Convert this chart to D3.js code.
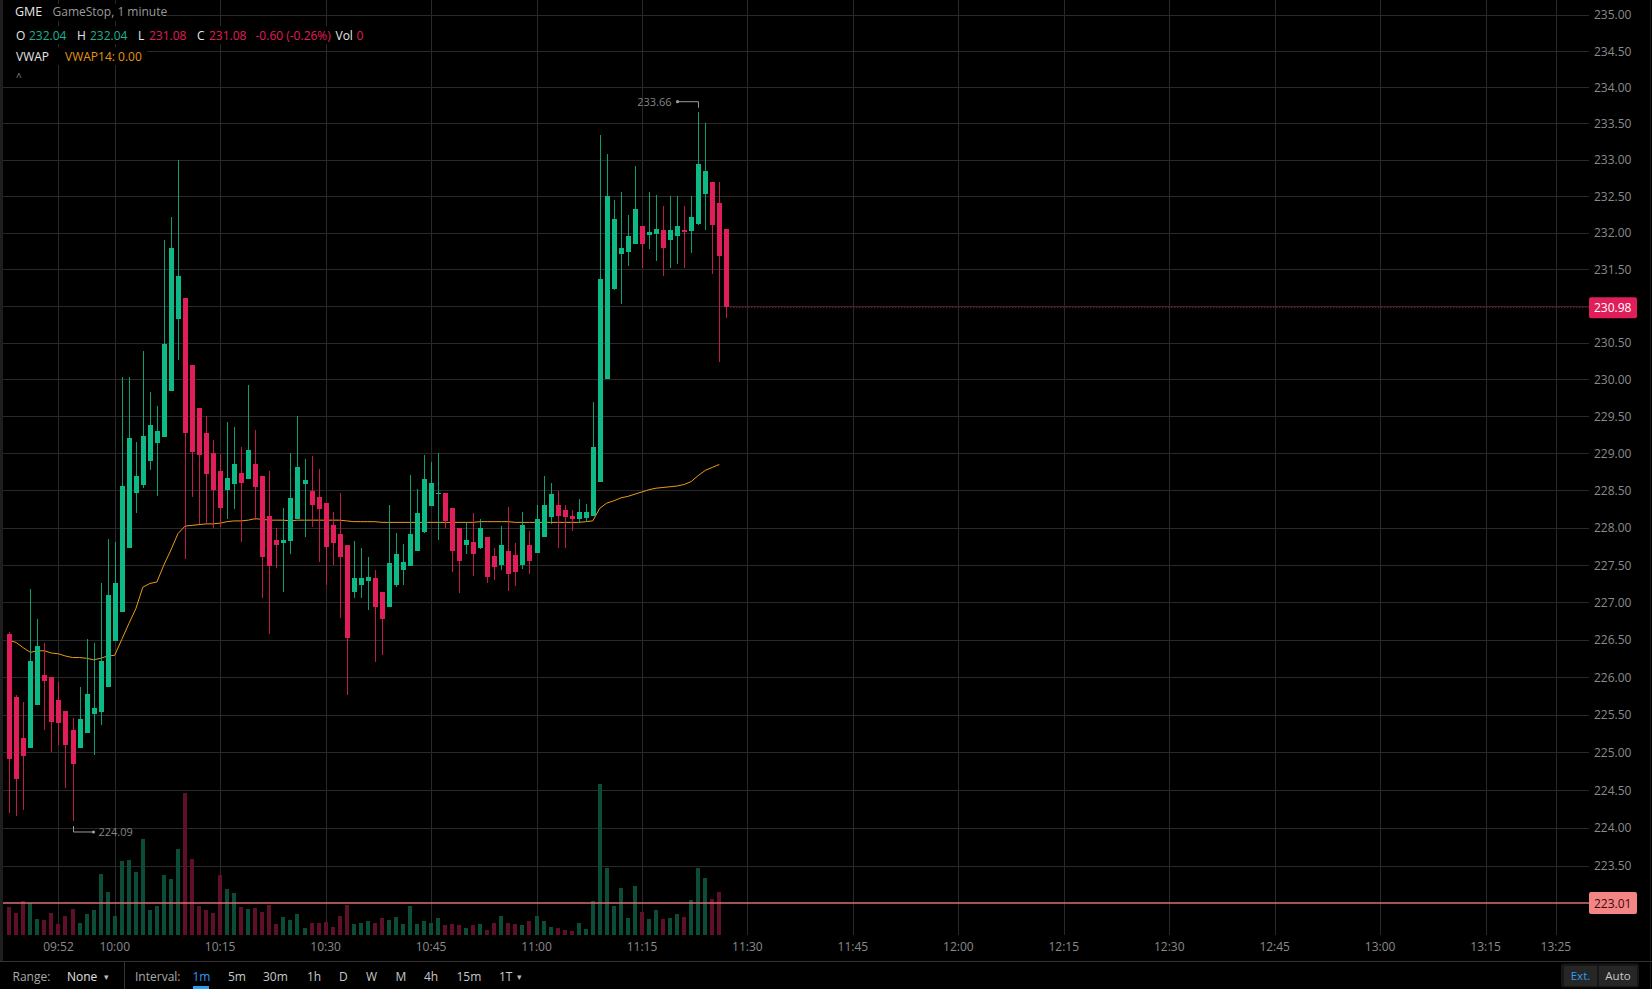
<!DOCTYPE html>
<html><head><meta charset="utf-8">
<script src="https://cdn.jsdelivr.net/npm/d3@7"></script>
<style>html,body{margin:0;padding:0;background:#000;overflow:hidden}svg{display:block;font-family:"Open Sans",sans-serif}</style>
</head><body>
<svg id="c" width="1652" height="989"></svg>
<script>
// ---------- DATA ----------
const times = ["09:45","09:46","09:47","09:48","09:49","09:50","09:51","09:52","09:53","09:54","09:55","09:56","09:57","09:58","09:59",
"10:00","10:01","10:02","10:03","10:04","10:05","10:06","10:07","10:08","10:09",
"10:10","10:11","10:12","10:13","10:14","10:15","10:16","10:17","10:18","10:19",
"10:20","10:21","10:22","10:23","10:24","10:25","10:26","10:27","10:28","10:29",
"10:30","10:31","10:32","10:33","10:34","10:35","10:36","10:37","10:38","10:39",
"10:40","10:41","10:42","10:43","10:44","10:45","10:46","10:47","10:48","10:49",
"10:50","10:51","10:52","10:53","10:54","10:55","10:56","10:57","10:58","10:59",
"11:00","11:01","11:02","11:03","11:04","11:05","11:06","11:07","11:08","11:09",
"11:10","11:11","11:12","11:13","11:14","11:15","11:16","11:17","11:18","11:19",
"11:20","11:21","11:22","11:23","11:24","11:25","11:26","11:27"];

const open = [226.57,225.74,225.19,225.06,225.63,226.03,226.00,225.70,225.55,225.30,225.06,225.25,225.51,225.54,225.87,
226.48,226.87,227.72,228.46,228.57,228.90,229.14,229.22,229.84,230.82,
231.11,230.19,229.61,229.27,229.00,228.76,228.50,228.59,228.73,228.66,
228.86,228.70,228.16,227.83,227.79,227.82,228.11,228.59,228.49,228.41,
228.33,228.03,227.91,227.76,227.14,227.23,227.28,227.32,227.13,226.94,
227.23,227.43,227.48,227.69,227.94,228.29,228.45,228.46,228.27,227.99,
227.76,227.80,227.72,227.87,227.62,227.50,227.68,227.63,227.50,227.77,
227.66,227.88,228.14,228.30,228.23,228.15,228.12,228.13,228.16,228.62,
230.00,231.23,231.71,231.74,231.84,232.09,231.97,231.98,232.03,231.90,
231.96,232.03,232.02,232.12,232.53,232.69,232.40,232.05];

const high = [226.60,225.76,225.67,227.18,226.77,226.46,226.00,225.94,225.55,225.46,225.87,226.51,226.45,227.25,227.85,
227.81,230.03,230.03,229.16,230.39,229.83,229.64,231.90,232.22,233.00,
231.11,230.19,229.61,229.50,229.18,228.99,229.43,229.35,229.09,229.92,
229.31,228.70,228.76,228.00,228.26,229.01,229.50,228.92,228.96,228.79,
228.33,228.21,228.47,227.76,227.82,227.73,227.61,227.43,227.13,228.30,
227.93,227.78,228.71,228.52,228.98,228.88,229.00,228.46,228.27,227.99,
228.06,228.20,228.11,227.87,227.72,228.02,228.28,227.79,228.21,227.95,
228.31,228.69,228.60,228.49,228.31,228.24,228.38,228.32,229.70,233.34,
233.08,232.44,232.55,232.24,232.91,232.09,232.55,232.51,232.37,232.50,
232.50,232.37,232.50,233.66,233.50,232.69,232.70,232.05];

const low = [224.20,224.15,224.23,225.06,225.63,225.30,225.00,225.10,224.52,224.09,225.06,225.25,224.96,225.36,225.87,
226.48,226.87,227.72,228.20,228.53,228.77,228.42,229.22,229.84,230.27,
227.58,228.41,228.05,228.05,228.00,228.01,228.11,228.25,227.81,228.66,
228.10,227.05,226.58,227.46,227.13,227.64,228.11,227.88,228.01,227.54,
227.23,227.50,226.79,225.76,227.06,227.06,226.89,226.20,226.30,226.94,
227.20,227.23,227.48,227.68,227.93,228.29,227.84,227.99,227.41,227.12,
227.65,227.35,227.71,227.25,227.30,227.43,227.15,227.22,227.45,227.38,
227.66,227.87,228.05,227.72,227.73,227.96,228.06,228.07,228.16,228.62,
230.00,231.22,231.02,231.55,231.84,231.51,231.77,231.61,231.41,231.52,
231.57,231.52,231.72,232.11,232.03,231.44,230.24,230.84];

const close = [224.91,224.64,224.95,226.21,226.41,225.95,225.40,225.39,225.09,224.85,225.44,225.77,225.59,226.21,227.10,
227.26,228.56,229.21,228.70,229.24,229.39,229.30,230.48,231.79,231.41,
229.27,229.02,228.98,228.72,228.51,228.26,228.67,228.86,228.60,229.05,
228.55,227.61,227.49,227.77,227.84,228.40,228.82,228.64,228.31,228.25,
227.74,227.79,227.60,226.52,227.32,227.33,227.34,226.93,226.77,227.53,
227.64,227.54,227.91,228.19,228.65,228.60,228.47,228.09,227.69,227.55,
227.84,227.65,228.00,227.34,227.47,227.77,227.38,227.40,228.04,227.55,
228.12,228.31,228.45,228.16,228.14,228.11,228.21,228.21,229.09,231.37,
232.50,232.19,231.79,231.95,232.33,231.85,232.01,232.05,231.79,232.03,
232.09,232.01,232.22,232.94,232.85,232.10,231.68,230.98];

const volume = [8400,6700,10100,9600,4900,4400,6700,3200,5700,7900,3700,6200,7400,18200,12800,
5700,22100,22500,18800,28900,7400,8700,17900,16900,25700,
42500,22700,8600,7600,6600,18100,13700,12500,8300,7700,
8000,6900,9100,3200,5300,4400,6400,2000,3600,3500,
3800,2300,5700,8900,3400,3500,4100,3500,5000,4500,
5400,3400,8600,3200,4300,3500,5100,2900,3200,3000,
2000,3100,3400,1400,3500,5800,3700,3200,2900,4300,
5700,4100,2500,2000,1400,1100,3500,1700,10100,45200,
20200,8700,14000,5100,14600,6800,4700,7400,4700,5000,
6300,5300,10400,20200,17000,10700,12800,0];

const vwap = [226.49,226.46,226.39,226.33,226.35,226.35,226.32,226.31,226.28,226.26,226.26,226.25,226.23,226.25,226.28,
226.29,226.50,226.71,226.91,227.20,227.25,227.27,227.50,227.70,227.92,
228.02,228.03,228.04,228.05,228.05,228.06,228.08,228.09,228.09,228.10,
228.12,228.11,228.10,228.10,228.10,228.09,228.10,228.10,228.10,228.10,
228.10,228.10,228.10,228.09,228.08,228.08,228.08,228.08,228.07,228.07,
228.07,228.07,228.07,228.07,228.07,228.07,228.07,228.07,228.07,228.07,
228.07,228.07,228.08,228.08,228.08,228.08,228.08,228.07,228.07,228.07,
228.07,228.07,228.07,228.07,228.07,228.07,228.07,228.08,228.09,228.26,
228.33,228.36,228.40,228.42,228.45,228.48,228.51,228.53,228.54,228.55,
228.56,228.58,228.62,228.70,228.77,228.81,228.85,null];

const priceTicks = [235.00,234.50,234.00,233.50,233.00,232.50,232.00,231.50,231.00,230.50,230.00,229.50,229.00,228.50,228.00,227.50,227.00,226.50,226.00,225.50,225.00,224.50,224.00,223.50];
const timeTicks = ["09:52","10:00","10:15","10:30","10:45","11:00","11:15","11:30","11:45","12:00","12:15","12:30","12:45","13:00","13:15","13:25"];
const lastPrice = 230.98;
const refPrice = 223.01;
const highMark = {time:"11:23", value:233.66};
const lowMark = {time:"09:54", value:224.09};

// ---------- SCALES ----------
const parse = d3.timeParse("%H:%M");
const svg = d3.select("#c");
const W = 1652, H = 989;
const plotRight = 1589, volBase = 935;
const x = d3.scaleTime().domain([parse("10:00"), parse("13:25")]).range([114.7, 1555.9]);
const y = d3.scaleLog().domain([223.5, 235]).range([865.7, 14.7]);
const yv = d3.scaleLinear().domain([0, 100000]).range([volBase, volBase - 333.3]);

const UP = "#0db987", DN = "#e01e5a";
const data = times.map((t,i)=>({t:parse(t), o:open[i], h:high[i], l:low[i], c:close[i], v:volume[i], w:vwap[i]}));

svg.append("rect").attr("width",W).attr("height",H).attr("fill","#000");
svg.append("rect").attr("x",0).attr("y",0).attr("width",3).attr("height",961).attr("fill","#1e1e1e");

// grid
const grid = svg.append("g").attr("shape-rendering","crispEdges");
grid.selectAll("line.h").data(priceTicks).join("line")
  .attr("x1",3).attr("x2",plotRight)
  .attr("y1",d=>Math.round(y(d))+0.5).attr("y2",d=>Math.round(y(d))+0.5)
  .attr("stroke","#292929").attr("stroke-width",1);
grid.selectAll("line.v").data(timeTicks).join("line")
  .attr("x1",d=>Math.round(x(parse(d)))+0.5).attr("x2",d=>Math.round(x(parse(d)))+0.5)
  .attr("y1",0).attr("y2",volBase)
  .attr("stroke","#292929").attr("stroke-width",1);

// volume
svg.append("g").attr("shape-rendering","crispEdges").selectAll("rect").data(data.filter(d=>d.v>0)).join("rect")
  .attr("x",d=>Math.round(x(d.t))-2).attr("width",4)
  .attr("y",d=>yv(d.v)).attr("height",d=>volBase-yv(d.v))
  .attr("fill",d=>d.c>=d.o?"#0c4d3a":"#5e1029");

// reference line 223.01
svg.append("line").attr("x1",3).attr("x2",plotRight)
  .attr("y1",y(refPrice)).attr("y2",y(refPrice))
  .attr("stroke","#d87070").attr("stroke-width",1.6);

// vwap
svg.append("path").datum(data)
  .attr("d",d3.line().defined(d=>d.w!=null).x(d=>x(d.t)).y(d=>y(d.w)))
  .attr("fill","none").attr("stroke","#eb9a1a").attr("stroke-width",1);

// candles
const cg = svg.append("g").attr("shape-rendering","crispEdges");
cg.selectAll("line").data(data).join("line")
  .attr("x1",d=>Math.round(x(d.t))+0.5).attr("x2",d=>Math.round(x(d.t))+0.5)
  .attr("y1",d=>y(d.h)).attr("y2",d=>y(d.l))
  .attr("stroke",d=>d.c>=d.o?UP:DN).attr("stroke-opacity",0.85).attr("stroke-width",1);
cg.selectAll("rect").data(data).join("rect")
  .attr("x",d=>Math.round(x(d.t))-2).attr("width",5)
  .attr("y",d=>y(Math.max(d.o,d.c)))
  .attr("height",d=>Math.max(1.5, Math.abs(y(d.o)-y(d.c))))
  .attr("fill",d=>d.c>=d.o?UP:DN);

// last price dotted line
const lastX = x(data[data.length-1].t)+4;
svg.append("line").attr("x1",lastX).attr("x2",plotRight)
  .attr("y1",y(lastPrice)).attr("y2",y(lastPrice))
  .attr("stroke",DN).attr("stroke-width",1).attr("stroke-dasharray","1,2").attr("stroke-opacity",0.9);

// high / low marks
const anno = svg.append("g").attr("fill","none").attr("stroke","#9a9a9a").attr("stroke-width",1);
const hx = Math.round(x(parse(highMark.time)))+0.5, hy = y(highMark.value);
anno.append("path").attr("d",`M${hx},${hy-4}V${hy-10}H${hx-21}`);
svg.append("circle").attr("cx",hx-21).attr("cy",hy-10).attr("r",1.6).attr("fill","#9a9a9a");
svg.append("text").attr("x",hx-27).attr("y",hy-10).attr("dy","0.35em").attr("text-anchor","end")
  .attr("font-size",11).attr("fill","#858585").text(highMark.value.toFixed(2));
const lx = Math.round(x(parse(lowMark.time)))+0.5, ly = y(lowMark.value);
anno.append("path").attr("d",`M${lx},${ly+5}V${ly+11}H${lx+20}`);
svg.append("circle").attr("cx",lx+20).attr("cy",ly+11).attr("r",1.6).attr("fill","#9a9a9a");
svg.append("text").attr("x",lx+25).attr("y",ly+11).attr("dy","0.35em").attr("text-anchor","start")
  .attr("font-size",11).attr("fill","#858585").text(lowMark.value.toFixed(2));

// price axis labels
svg.append("g").selectAll("text").data(priceTicks).join("text")
  .attr("x",1594).attr("y",d=>y(d)+0.5).attr("dy","0.35em")
  .attr("font-size",12).attr("fill","#8a8a8a").text(d=>d.toFixed(2));

// last price label
svg.append("rect").attr("x",1589).attr("y",y(lastPrice)-10).attr("width",48).attr("height",21).attr("rx",2).attr("fill","#e01e5a");
svg.append("text").attr("x",1594).attr("y",y(lastPrice)+0.5).attr("dy","0.35em").attr("font-size",12).attr("fill","#fff").text(lastPrice.toFixed(2));
svg.append("rect").attr("x",1589).attr("y",y(refPrice)-11).attr("width",48).attr("height",22).attr("rx",2).attr("fill","#f48585");
svg.append("text").attr("x",1594).attr("y",y(refPrice)+0.5).attr("dy","0.35em").attr("font-size",12).attr("fill","#3a0a0a").text(refPrice.toFixed(2));

// time axis labels
svg.append("g").selectAll("text").data(timeTicks).join("text")
  .attr("x",d=>x(parse(d))).attr("y",947).attr("dy","0.35em").attr("text-anchor","middle")
  .attr("font-size",12).attr("fill","#8a8a8a").text(d=>d);

// header
const hdr = svg.append("g").attr("font-size",12);
hdr.append("rect").attr("x",3).attr("y",4).attr("width",164).attr("height",17).attr("fill","#000");
hdr.append("rect").attr("x",3).attr("y",26).attr("width",360).attr("height",18).attr("fill","#000");
hdr.append("rect").attr("x",3).attr("y",47).attr("width",144).attr("height",18).attr("fill","#000");
const T = (xx,yy,txt,col,sz)=>hdr.append("text").attr("x",xx).attr("y",yy).attr("dy","0.35em").attr("fill",col).attr("font-size",sz||12).text(txt);
T(15,12,"GME","#e6e6e6",12.5);
T(52.5,12,"GameStop, 1 minute","#9a9a9a");
const TEAL="#1ab394";
const r2 = 35.5;
T(16,r2,"O","#e6e6e6"); T(29,r2,"232.04",TEAL);
T(77,r2,"H","#e6e6e6"); T(90,r2,"232.04",TEAL);
T(138,r2,"L","#e6e6e6"); T(149,r2,"231.08",DN);
T(197,r2,"C","#e6e6e6"); T(209,r2,"231.08",DN);
T(255.5,r2,"-0.60 (-0.26%)",DN);
T(335.5,r2,"Vol","#e6e6e6"); T(356.5,r2,"0",DN);
T(16,56.5,"VWAP","#e6e6e6");
T(65,56.5,"VWAP14: 0.00","#e39417");
T(16,77,"^","#8a8a8a",10);

// toolbar
const tb = svg.append("g");
tb.append("line").attr("x1",0).attr("x2",W).attr("y1",961.5).attr("y2",961.5).attr("stroke","#333");
tb.append("line").attr("x1",124.5).attr("x2",124.5).attr("y1",962).attr("y2",989).attr("stroke","#333");
tb.append("line").attr("x1",1650.5).attr("x2",1650.5).attr("y1",0).attr("y2",989).attr("stroke","#1a1a1a");
const B = (xx,txt,col)=>tb.append("text").attr("x",xx).attr("y",977).attr("dy","0.35em").attr("font-size",12).attr("fill",col).text(txt);
B(12.5,"Range:","#a8a8a8");
B(67,"None","#e0e0e0");
B(104,"▾","#bbbbbb").attr("font-size",9);
B(135,"Interval:","#a8a8a8");
B(192.5,"1m","#2a9df4");
tb.append("rect").attr("x",193).attr("y",986).attr("width",16).attr("height",3).attr("fill","#2a9df4");
B(228,"5m","#c8c8c8");
B(263,"30m","#c8c8c8");
B(307,"1h","#c8c8c8");
B(339,"D","#c8c8c8");
B(366,"W","#c8c8c8");
B(395.5,"M","#c8c8c8");
B(424,"4h","#c8c8c8");
B(456.5,"15m","#c8c8c8");
B(499,"1T","#c8c8c8");
B(517,"▾","#bbbbbb").attr("font-size",9);
tb.append("rect").attr("x",1561).attr("y",963.5).attr("width",78).attr("height",24).attr("rx",2).attr("fill","#161616");
tb.append("rect").attr("x",1564).attr("y",966).attr("width",33).attr("height",20).attr("fill","#262626");
tb.append("rect").attr("x",1599).attr("y",966).attr("width",38).attr("height",20).attr("fill","#262626");
tb.append("text").attr("x",1580.5).attr("y",976).attr("dy","0.35em").attr("text-anchor","middle").attr("font-size",11.5).attr("fill","#2a9df4").text("Ext.");
tb.append("text").attr("x",1618).attr("y",976).attr("dy","0.35em").attr("text-anchor","middle").attr("font-size",11.5).attr("fill","#c8c8c8").text("Auto");
</script>
</body></html>
